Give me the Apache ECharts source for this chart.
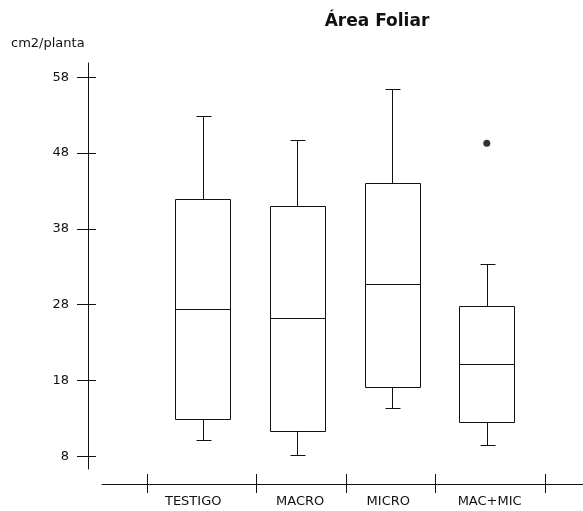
<!DOCTYPE html>
<html>
<head>
<meta charset="utf-8">
<script src="https://cdn.jsdelivr.net/npm/echarts@6/dist/echarts.min.js"></script>
<style>
  html, body { margin: 0; padding: 0; background: #fff; }
  #chart { width: 583px; height: 511px; }
</style>
</head>
<body>
<div id="chart"></div>
<script>
// Treatments and their box-plot summaries (cm2/planta)
const categories = ['TESTIGO', 'MACRO', 'MICRO', 'MAC+MIC'];
const categoryPos = [1, 2, 3, 4];
const whiskerLow  = [10.1,  8.2, 14.4,  9.5];
const quart1      = [12.9, 11.4, 17.2, 12.5];
const medians     = [27.5, 26.2, 30.7, 20.2];
const quart3      = [42.0, 41.0, 44.1, 27.9];
const whiskerHigh = [52.9, 49.7, 56.4, 33.4];
const outliers    = [[4, 49.3]];

// Axis ticks and label anchors
const yTicks = [8, 18, 28, 38, 48, 58];
const xTickPos = [0.42, 1.57, 2.52, 3.46, 4.62];
const xLabelPos = [0.9, 2.03, 2.96, 4.03];

const FONT = 'DejaVu Sans';
const INK = '#111';

const boxData = categoryPos.map((x, i) =>
  [x, whiskerLow[i], quart1[i], medians[i], quart3[i], whiskerHigh[i]]);

const crisp = v => Math.round(v) + 0.5;

function renderBox(params, api) {
  const x = api.value(0);
  const lo = api.coord([x, api.value(1)]);
  const b1 = api.coord([x, api.value(2)]);
  const md = api.coord([x, api.value(3)]);
  const b3 = api.coord([x, api.value(4)]);
  const hi = api.coord([x, api.value(5)]);
  const cx = crisp(lo[0]);
  const boxW = 55, capW = 15;
  const left = crisp(lo[0] - boxW / 2);
  const right = left + boxW;
  const capL = cx - Math.floor(capW / 2), capR = capL + capW;
  const style = { stroke: INK, lineWidth: 1, fill: null };
  const yLo = crisp(lo[1]), y1 = crisp(b1[1]), yM = crisp(md[1]), y3 = crisp(b3[1]), yHi = crisp(hi[1]);
  return {
    type: 'group',
    children: [
      { type: 'rect', shape: { x: left, y: y3, width: boxW, height: y1 - y3 }, style: style },
      { type: 'line', shape: { x1: left, y1: yM, x2: right, y2: yM }, style: style },
      { type: 'line', shape: { x1: cx, y1: yHi, x2: cx, y2: y3 }, style: style },
      { type: 'line', shape: { x1: capL, y1: yHi, x2: capR, y2: yHi }, style: style },
      { type: 'line', shape: { x1: cx, y1: y1, x2: cx, y2: yLo }, style: style },
      { type: 'line', shape: { x1: capL, y1: yLo, x2: capR, y2: yLo }, style: style }
    ]
  };
}

const chart = echarts.init(document.getElementById('chart'), null, { renderer: 'canvas' });

const yMin = 6.34, yMax = 59.88;
const xMax = 5.016;
const axisLineStyle = { color: INK, width: 1 };

chart.setOption({
  backgroundColor: '#fff',
  animation: false,
  graphic: [
    {
      type: 'text', x: 377, y: 13,
      style: { text: 'Área Foliar', align: 'center', textAlign: 'center', verticalAlign: 'top', textVerticalAlign: 'top',
               font: 'bold 17px "DejaVu Sans"', fill: INK }
    },
    {
      type: 'text', x: 11, y: 37,
      style: { text: 'cm2/planta', align: 'left', textAlign: 'left', verticalAlign: 'top', textVerticalAlign: 'top',
               font: '13px "DejaVu Sans"', fill: INK }
    }
  ],
  grid: [
    { left: 88, right: 0, top: 63, bottom: 42 },
    { left: 102, right: 0, top: 63, bottom: 27 }
  ],
  xAxis: [
    { type: 'value', gridIndex: 0, min: -0.211, max: xMax, show: false, axisLine: { onZero: false } },
    {
      type: 'value', gridIndex: 1, min: -0.063, max: xMax, position: 'bottom', offset: 0,
      axisLine: { show: true, onZero: false, lineStyle: axisLineStyle },
      axisTick: { show: true, length: 9, customValues: xTickPos, lineStyle: axisLineStyle },
      axisLabel: {
        show: true, customValues: xLabelPos, margin: 11,
        fontFamily: FONT, fontSize: 13, color: INK,
        formatter: v => {
          let best = 0;
          xLabelPos.forEach((p, i) => { if (Math.abs(p - v) < Math.abs(xLabelPos[best] - v)) best = i; });
          return categories[best];
        }
      },
      splitLine: { show: false }
    },
    {
      type: 'value', gridIndex: 1, min: -0.063, max: xMax, position: 'bottom', offset: 0,
      axisLine: { show: false, onZero: false },
      axisTick: { show: true, inside: true, length: 10, customValues: xTickPos, lineStyle: axisLineStyle },
      axisLabel: { show: false },
      splitLine: { show: false }
    }
  ],
  yAxis: [
    {
      type: 'value', gridIndex: 0, min: yMin, max: yMax, position: 'left', offset: 0,
      axisLine: { show: true, onZero: false, lineStyle: axisLineStyle },
      axisTick: { show: true, length: 11, customValues: yTicks, lineStyle: axisLineStyle },
      axisLabel: { show: true, customValues: yTicks, margin: 19, fontFamily: FONT, fontSize: 13, color: INK },
      splitLine: { show: false }
    },
    {
      type: 'value', gridIndex: 0, min: yMin, max: yMax, position: 'left', offset: 0,
      axisLine: { show: false, onZero: false },
      axisTick: { show: true, inside: true, length: 8, customValues: yTicks, lineStyle: axisLineStyle },
      axisLabel: { show: false },
      splitLine: { show: false }
    },
    { type: 'value', gridIndex: 1, min: yMin, max: yMax, show: false, axisLine: { onZero: false } }
  ],
  series: [
    {
      type: 'custom', name: 'Área Foliar',
      xAxisIndex: 0, yAxisIndex: 0,
      renderItem: renderBox,
      encode: { x: 0, y: [1, 2, 3, 4, 5] },
      data: boxData
    },
    {
      type: 'scatter', name: 'atípico',
      xAxisIndex: 0, yAxisIndex: 0,
      symbol: 'circle', symbolSize: 7,
      itemStyle: { color: '#000' },
      data: outliers
    }
  ]
});
</script>
</body>
</html>
